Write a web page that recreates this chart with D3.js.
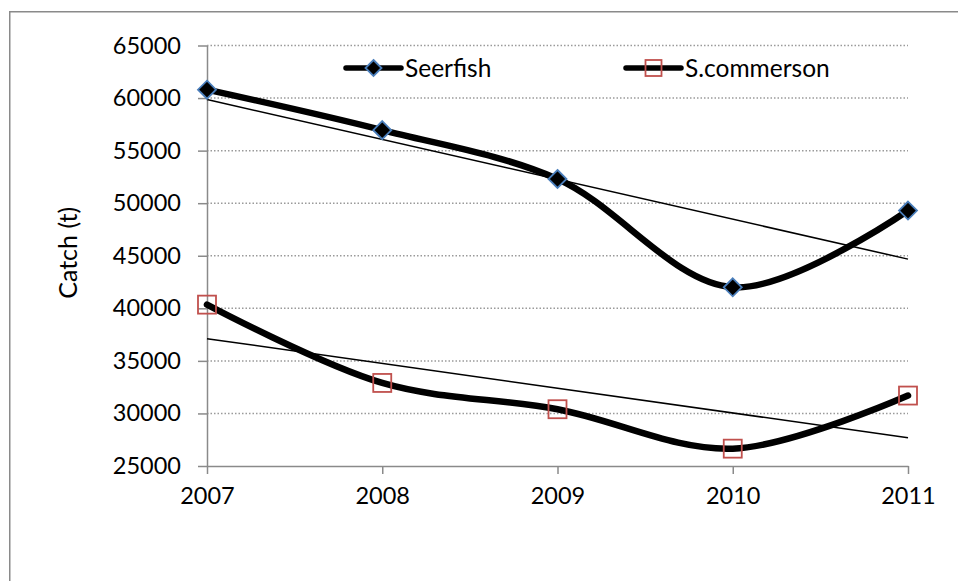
<!DOCTYPE html>
<html>
<head>
<meta charset="utf-8">
<script src="https://cdn.jsdelivr.net/npm/d3@7"></script>
<style>
  html, body { margin: 0; padding: 0; background: #fff; }
  svg { display: block; font-family: Lato, "Open Sans", sans-serif; }
</style>
</head>
<body>
<svg id="chart" width="958" height="581"></svg>
<script>
// Annual catch, tonnes
const years = [2007, 2008, 2009, 2010, 2011];
const seerfish = [60800, 56950, 52300, 42000, 49300];
const commerson = [40350, 32900, 30400, 26650, 31700];
const yTicks = [25000, 30000, 35000, 40000, 45000, 50000, 55000, 60000, 65000];
const seriesNames = ["Seerfish", "S.commerson"];
const yTitle = "Catch (t)";

const svg = d3.select("#chart");

// Chart-area frame (runs off the right and bottom edges)
svg.append("rect")
  .attr("x", 9.75).attr("y", 11.75)
  .attr("width", 1000).attr("height", 1000)
  .attr("fill", "#fff")
  .attr("stroke", "#8a8a8a").attr("stroke-width", 1.5);

const x = d3.scaleLinear().domain([2007, 2011]).range([207, 908]);
const y = d3.scaleLinear().domain([25000, 65000]).range([466, 45.5]);

// Dotted horizontal gridlines
svg.append("g").selectAll("line")
  .data(yTicks.filter(t => t !== 25000))
  .join("line")
  .attr("x1", x(2007)).attr("x2", x(2011))
  .attr("y1", d => y(d)).attr("y2", d => y(d))
  .attr("stroke", "#9a9a9a").attr("stroke-width", 1.5)
  .attr("stroke-dasharray", "1.5,2");

// Axes
const yAxis = svg.append("g")
  .attr("transform", `translate(${x(2007)},0)`)
  .call(d3.axisLeft(y).tickValues(yTicks).tickSize(9).tickPadding(17)
    .tickFormat(d3.format("d")).tickSizeOuter(0));
const xAxis = svg.append("g")
  .attr("transform", `translate(0,${y(25000)})`)
  .call(d3.axisBottom(x).tickValues(years).tickSize(8).tickPadding(13)
    .tickFormat(d3.format("d")).tickSizeOuter(0));

[yAxis, xAxis].forEach(g => {
  g.select(".domain").attr("stroke", "#8a8a8a").attr("stroke-width", 1.5);
  g.selectAll(".tick line").attr("stroke", "#8a8a8a").attr("stroke-width", 1.5);
  g.selectAll(".tick text").attr("fill", "#000")
    .style("font-family", "Lato, 'Open Sans', sans-serif")
    .style("font-size", "23.5px")
    .style("font-variant-numeric", "tabular-nums");
});

// Y-axis title
svg.append("text")
  .attr("transform", `translate(77,${(y(25000) + y(65000)) / 2 - 3}) rotate(-90)`)
  .attr("text-anchor", "middle")
  .style("font-size", "25px")
  .attr("fill", "#000")
  .text(yTitle);

// Least-squares linear trend for a series
function trend(vals) {
  const n = vals.length;
  const mx = d3.mean(years), my = d3.mean(vals);
  let num = 0, den = 0;
  years.forEach((xv, i) => { num += (xv - mx) * (vals[i] - my); den += (xv - mx) ** 2; });
  const b = num / den, a = my - b * mx;
  return [years[0], years[n - 1]].map(xv => [xv, a + b * xv]);
}

const line = d3.line()
  .x(d => x(d[0])).y(d => y(d[1]))
  .curve(d3.curveCatmullRom.alpha(0.5));
const straight = d3.line().x(d => x(d[0])).y(d => y(d[1]));

[seerfish, commerson].forEach(vals => {
  svg.append("path")
    .attr("d", straight(trend(vals)))
    .attr("fill", "none").attr("stroke", "#000").attr("stroke-width", 1.5);
});

[seerfish, commerson].forEach(vals => {
  svg.append("path")
    .attr("d", line(years.map((yr, i) => [yr, vals[i]])))
    .attr("fill", "none").attr("stroke", "#000")
    .attr("stroke-width", 6.5).attr("stroke-linejoin", "round")
    .attr("stroke-linecap", "round");
});

// Markers
const diamond = (cx, cy, r) => `M${cx},${cy - r}L${cx + r},${cy}L${cx},${cy + r}L${cx - r},${cy}Z`;

svg.append("g").selectAll("path")
  .data(years.map((yr, i) => [yr, seerfish[i]]))
  .join("path")
  .attr("d", d => diamond(x(d[0]), y(d[1]), 9))
  .attr("fill", "#000").attr("stroke", "#4a7ebb").attr("stroke-width", 1.8);

svg.append("g").selectAll("rect")
  .data(years.map((yr, i) => [yr, commerson[i]]))
  .join("rect")
  .attr("x", d => x(d[0]) - 9).attr("y", d => y(d[1]) - 9)
  .attr("width", 18).attr("height", 18)
  .attr("fill", "none").attr("stroke", "#c0504d").attr("stroke-width", 1.8);

// Legend
const legendY = 68;
const legend = [
  { name: seriesNames[0], x0: 346, kind: "diamond" },
  { name: seriesNames[1], x0: 626, kind: "square" }
];
legend.forEach(item => {
  const g = svg.append("g");
  g.append("line")
    .attr("x1", item.x0).attr("x2", item.x0 + 55)
    .attr("y1", legendY).attr("y2", legendY)
    .attr("stroke", "#000").attr("stroke-width", 5.5).attr("stroke-linecap", "round");
  const cx = item.x0 + 27.5;
  if (item.kind === "diamond") {
    g.append("path").attr("d", diamond(cx, legendY, 8))
      .attr("fill", "#000").attr("stroke", "#4a7ebb").attr("stroke-width", 1.8);
  } else {
    g.append("rect").attr("x", cx - 8).attr("y", legendY - 8)
      .attr("width", 16).attr("height", 16)
      .attr("fill", "none").attr("stroke", "#c0504d").attr("stroke-width", 1.8);
  }
  g.append("text")
    .attr("x", item.x0 + 59).attr("y", legendY + 8.5)
    .style("font-size", "24.5px").attr("fill", "#000")
    .text(item.name);
});
</script>
</body>
</html>
